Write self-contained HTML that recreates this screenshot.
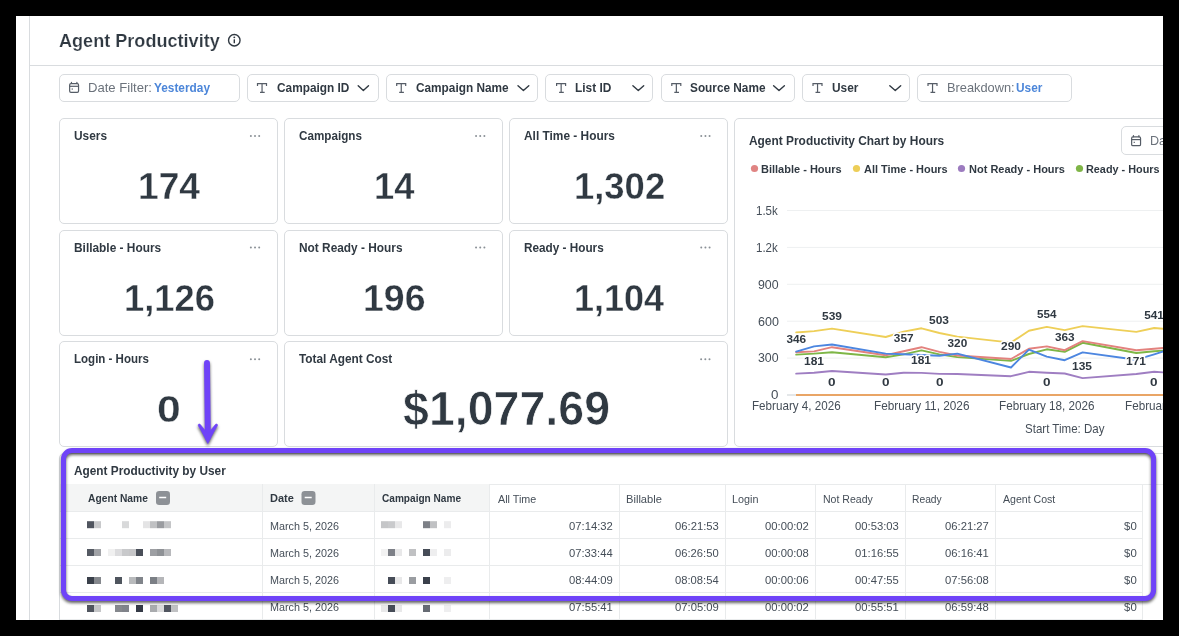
<!DOCTYPE html>
<html><head><meta charset="utf-8"><title>Agent Productivity</title>
<style>
html,body{margin:0;padding:0;background:#000;}
body{width:1179px;height:636px;overflow:hidden;position:relative;font-family:"Liberation Sans", sans-serif;}
#sheet{position:absolute;left:16px;top:16px;width:1147px;height:604px;background:#fff;overflow:hidden;}
#in{position:absolute;left:-16px;top:-16px;width:1179px;height:636px;}
.b{position:absolute;box-sizing:content-box;}
.t{position:absolute;white-space:nowrap;line-height:1;font-family:"Liberation Sans", sans-serif;transform-origin:0 0;}
svg{position:absolute;left:0;top:0;overflow:visible;}
</style></head><body>
<div id="sheet"><div id="in">
<div class="b" style="left:29px;top:16px;width:1px;height:604px;background:#d9dcdf"></div>
<div class="b" style="left:30px;top:65px;width:1133px;height:1px;background:#d9dcdf"></div>
<div class="b" style="left:59px;top:74px;width:179.0px;height:26.0px;border:1px solid #d9dcdf;border-radius:5px;background:#fff;"></div>
<div class="b" style="left:247px;top:74px;width:130.0px;height:26.0px;border:1px solid #d9dcdf;border-radius:5px;background:#fff;"></div>
<div class="b" style="left:386px;top:74px;width:150.0px;height:26.0px;border:1px solid #d9dcdf;border-radius:5px;background:#fff;"></div>
<div class="b" style="left:545px;top:74px;width:106.0px;height:26.0px;border:1px solid #d9dcdf;border-radius:5px;background:#fff;"></div>
<div class="b" style="left:661px;top:74px;width:132.0px;height:26.0px;border:1px solid #d9dcdf;border-radius:5px;background:#fff;"></div>
<div class="b" style="left:802px;top:74px;width:106.0px;height:26.0px;border:1px solid #d9dcdf;border-radius:5px;background:#fff;"></div>
<div class="b" style="left:917px;top:74px;width:153.0px;height:26.0px;border:1px solid #d9dcdf;border-radius:5px;background:#fff;"></div>
<div class="b" style="left:59px;top:118px;width:217.0px;height:104.0px;border:1px solid #d9dcdf;border-radius:5px;background:#fff;"></div>
<div class="b" style="left:284px;top:118px;width:217.0px;height:104.0px;border:1px solid #d9dcdf;border-radius:5px;background:#fff;"></div>
<div class="b" style="left:509px;top:118px;width:217.0px;height:104.0px;border:1px solid #d9dcdf;border-radius:5px;background:#fff;"></div>
<div class="b" style="left:59px;top:230px;width:217.0px;height:104.0px;border:1px solid #d9dcdf;border-radius:5px;background:#fff;"></div>
<div class="b" style="left:284px;top:230px;width:217.0px;height:104.0px;border:1px solid #d9dcdf;border-radius:5px;background:#fff;"></div>
<div class="b" style="left:509px;top:230px;width:217.0px;height:104.0px;border:1px solid #d9dcdf;border-radius:5px;background:#fff;"></div>
<div class="b" style="left:59px;top:341px;width:217.0px;height:104.0px;border:1px solid #d9dcdf;border-radius:5px;background:#fff;"></div>
<div class="b" style="left:284px;top:341px;width:442.0px;height:104.0px;border:1px solid #d9dcdf;border-radius:5px;background:#fff;"></div>
<div class="b" style="left:734px;top:118px;width:564.0px;height:327.0px;border:1px solid #d9dcdf;border-radius:5px;background:#fff;"></div>
<div class="b" style="left:1121px;top:126px;width:177.0px;height:27.0px;border:1px solid #d9dcdf;border-radius:5px;background:#fff;"></div>
<div class="b" style="left:59px;top:453px;width:1239.0px;height:245.0px;border:1px solid #d9dcdf;border-radius:5px;background:#fff;"></div>
<div class="b" style="left:60px;top:484px;width:429px;height:28px;background:#f4f5f5"></div>
<div class="b" style="left:489px;top:484px;width:686px;height:1px;background:#e9ebec"></div>
<div class="b" style="left:60px;top:511px;width:1083px;height:1px;background:#e9ebec"></div>
<div class="b" style="left:60px;top:538px;width:1083px;height:1px;background:#e9ebec"></div>
<div class="b" style="left:60px;top:565px;width:1083px;height:1px;background:#e9ebec"></div>
<div class="b" style="left:60px;top:592px;width:1083px;height:1px;background:#e9ebec"></div>
<div class="b" style="left:60px;top:619px;width:1083px;height:1px;background:#e9ebec"></div>
<div class="b" style="left:262px;top:484px;width:1px;height:140px;background:#e9ebec"></div>
<div class="b" style="left:374px;top:484px;width:1px;height:140px;background:#e9ebec"></div>
<div class="b" style="left:489px;top:484px;width:1px;height:140px;background:#e9ebec"></div>
<div class="b" style="left:619px;top:484px;width:1px;height:140px;background:#e9ebec"></div>
<div class="b" style="left:725px;top:484px;width:1px;height:140px;background:#e9ebec"></div>
<div class="b" style="left:815px;top:484px;width:1px;height:140px;background:#e9ebec"></div>
<div class="b" style="left:905px;top:484px;width:1px;height:140px;background:#e9ebec"></div>
<div class="b" style="left:995px;top:484px;width:1px;height:140px;background:#e9ebec"></div>
<div class="b" style="left:1142px;top:484px;width:1px;height:140px;background:#e9ebec"></div>
<svg width="1179" height="636" viewBox="0 0 1179 636">
<circle cx="234.3" cy="40.2" r="5.75" fill="none" stroke="#303942" stroke-width="1.4"/><rect x="233.6" y="39.2" width="1.4" height="4.1" rx="0.4" fill="#303942"/><circle cx="234.3" cy="37.35" r="0.95" fill="#303942"/>
<g fill="none" stroke="#555c66" stroke-width="1.2"><rect x="69.65" y="83.65" width="8.9" height="8.75" rx="1.3"/><path d="M69.65 86.30H78.55"/><path stroke-linecap="round" d="M71.45 82.30V83.45M76.90 82.30V83.45"/></g><rect x="71.65" y="88.45" width="1.2" height="1.2" fill="#555c66"/>
<g fill="none" stroke="#555c66" stroke-width="1.2"><rect x="1131.65" y="136.95" width="8.9" height="8.75" rx="1.3"/><path d="M1131.65 139.60H1140.55"/><path stroke-linecap="round" d="M1133.45 135.60V136.75M1138.90 135.60V136.75"/></g><rect x="1133.65" y="141.75" width="1.2" height="1.2" fill="#555c66"/>
<path fill="none" stroke="#565d67" stroke-width="1.2" d="M257.50 85.90V83.70H266.50V85.90M262.05 83.70V92.40M260.00 92.40H264.70"/>
<path fill="none" stroke="#565d67" stroke-width="1.2" d="M396.70 85.90V83.70H405.70V85.90M401.25 83.70V92.40M399.20 92.40H403.90"/>
<path fill="none" stroke="#565d67" stroke-width="1.2" d="M556.60 85.90V83.70H565.60V85.90M561.15 83.70V92.40M559.10 92.40H563.80"/>
<path fill="none" stroke="#565d67" stroke-width="1.2" d="M671.80 85.90V83.70H680.80V85.90M676.35 83.70V92.40M674.30 92.40H679.00"/>
<path fill="none" stroke="#565d67" stroke-width="1.2" d="M813.00 85.90V83.70H822.00V85.90M817.55 83.70V92.40M815.50 92.40H820.20"/>
<path fill="none" stroke="#565d67" stroke-width="1.2" d="M928.00 85.90V83.70H937.00V85.90M932.55 83.70V92.40M930.50 92.40H935.20"/>
<path fill="none" stroke="#303942" stroke-width="1.4" stroke-linecap="round" stroke-linejoin="round" d="M358.20000000000005 85.7L363.35 90.6L368.5 85.7"/>
<path fill="none" stroke="#303942" stroke-width="1.4" stroke-linecap="round" stroke-linejoin="round" d="M518.0 85.7L523.4 90.6L528.8000000000001 85.7"/>
<path fill="none" stroke="#303942" stroke-width="1.4" stroke-linecap="round" stroke-linejoin="round" d="M632.9 85.7L638.3 90.6L643.7 85.7"/>
<path fill="none" stroke="#303942" stroke-width="1.4" stroke-linecap="round" stroke-linejoin="round" d="M773.6 85.7L779.0 90.6L784.4000000000001 85.7"/>
<path fill="none" stroke="#303942" stroke-width="1.4" stroke-linecap="round" stroke-linejoin="round" d="M889.8000000000001 85.7L895.25 90.6L900.7 85.7"/>
<circle cx="250.85" cy="136.0" r="1.0" fill="#8a9096"/>
<circle cx="255.02" cy="136.0" r="1.0" fill="#8a9096"/>
<circle cx="259.19" cy="136.0" r="1.0" fill="#8a9096"/>
<circle cx="250.85" cy="247.6" r="1.0" fill="#8a9096"/>
<circle cx="255.02" cy="247.6" r="1.0" fill="#8a9096"/>
<circle cx="259.19" cy="247.6" r="1.0" fill="#8a9096"/>
<circle cx="476.05" cy="136.0" r="1.0" fill="#8a9096"/>
<circle cx="480.22" cy="136.0" r="1.0" fill="#8a9096"/>
<circle cx="484.39" cy="136.0" r="1.0" fill="#8a9096"/>
<circle cx="476.05" cy="247.6" r="1.0" fill="#8a9096"/>
<circle cx="480.22" cy="247.6" r="1.0" fill="#8a9096"/>
<circle cx="484.39" cy="247.6" r="1.0" fill="#8a9096"/>
<circle cx="701.25" cy="136.0" r="1.0" fill="#8a9096"/>
<circle cx="705.42" cy="136.0" r="1.0" fill="#8a9096"/>
<circle cx="709.59" cy="136.0" r="1.0" fill="#8a9096"/>
<circle cx="701.25" cy="247.6" r="1.0" fill="#8a9096"/>
<circle cx="705.42" cy="247.6" r="1.0" fill="#8a9096"/>
<circle cx="709.59" cy="247.6" r="1.0" fill="#8a9096"/>
<circle cx="250.85" cy="359.3" r="1.0" fill="#8a9096"/>
<circle cx="255.02" cy="359.3" r="1.0" fill="#8a9096"/>
<circle cx="259.19" cy="359.3" r="1.0" fill="#8a9096"/>
<circle cx="701.15" cy="359.3" r="1.0" fill="#8a9096"/>
<circle cx="705.32" cy="359.3" r="1.0" fill="#8a9096"/>
<circle cx="709.49" cy="359.3" r="1.0" fill="#8a9096"/>
<circle cx="754.5" cy="168.5" r="3.6" fill="#E08483"/>
<circle cx="856.5" cy="168.5" r="3.6" fill="#EDCE58"/>
<circle cx="961.5" cy="168.5" r="3.6" fill="#9C7BBF"/>
<circle cx="1079.5" cy="168.5" r="3.6" fill="#7FB547"/>
<rect x="787" y="210.0" width="400" height="1" fill="#eef0f1"/>
<rect x="787" y="246.9" width="400" height="1" fill="#eef0f1"/>
<rect x="787" y="283.8" width="400" height="1" fill="#eef0f1"/>
<rect x="787" y="320.7" width="400" height="1" fill="#eef0f1"/>
<rect x="787" y="357.6" width="400" height="1" fill="#eef0f1"/>
<rect x="787" y="394" width="10" height="2" fill="#e4e7e9"/>
<rect x="796.0" y="394" width="400" height="2" fill="#E9A566"/>
<polyline fill="none" stroke="#EECF58" stroke-width="1.9" stroke-linejoin="round" stroke-linecap="round" points="796.2,332.5 814.1,331.1 832.0,328.6 885.7,337.0 903.6,331.6 921.5,328.3 939.4,333.0 957.3,336.6 1011.0,342.6 1028.9,330.7 1046.8,326.9 1064.7,330.1 1082.6,326.1 1136.3,331.9 1154.2,328.0 1172.1,329.6"/>
<polyline fill="none" stroke="#9F7EC2" stroke-width="1.9" stroke-linejoin="round" stroke-linecap="round" points="796.2,373.6 814.1,372.8 832.0,371.0 885.7,374.5 903.6,372.8 921.5,372.9 939.4,373.9 957.3,374.0 1011.0,376.2 1028.9,371.8 1046.8,372.7 1064.7,373.5 1082.6,378.1 1136.3,374.0 1154.2,371.7 1172.1,373.0"/>
<polyline fill="none" stroke="#7EB646" stroke-width="1.9" stroke-linejoin="round" stroke-linecap="round" points="796.2,354.6 814.1,353.6 832.0,352.2 885.7,357.3 903.6,354.4 921.5,350.4 939.4,354.4 957.3,357.1 1011.0,360.9 1028.9,354.0 1046.8,349.3 1064.7,351.9 1082.6,342.8 1136.3,353.0 1154.2,351.2 1172.1,350.0"/>
<polyline fill="none" stroke="#E3827E" stroke-width="1.9" stroke-linejoin="round" stroke-linecap="round" points="796.2,352.3 814.1,351.4 832.0,347.2 885.7,355.3 903.6,351.2 921.5,347.2 939.4,351.9 957.3,355.5 1011.0,359.0 1028.9,348.8 1046.8,346.4 1064.7,350.2 1082.6,341.1 1136.3,350.2 1154.2,348.7 1172.1,347.3"/>
<polyline fill="none" stroke="#4C86E0" stroke-width="1.9" stroke-linejoin="round" stroke-linecap="round" points="796.2,351.6 814.1,346.4 832.0,344.5 885.7,353.6 903.6,354.2 921.5,355.0 939.4,355.7 957.3,353.6 1011.0,367.5 1028.9,349.6 1046.8,356.6 1064.7,360.2 1082.6,352.4 1136.3,359.7 1154.2,354.3 1172.1,348.6"/>
<rect x="156.0" y="491" width="14" height="14" rx="3.2" fill="#8d9196"/><rect x="159.2" y="496.75" width="7.0" height="1.5" fill="#fff"/>
<rect x="301.5" y="491" width="14" height="14" rx="3.2" fill="#8d9196"/><rect x="304.7" y="496.75" width="7.0" height="1.5" fill="#fff"/>
<rect x="87" y="521.2" width="7" height="7" fill="#50555f"/>
<rect x="94" y="521.2" width="7" height="7" fill="#c8c9cb"/>
<rect x="122" y="521.2" width="7" height="7" fill="#d8d9da"/>
<rect x="143" y="521.2" width="7" height="7" fill="#e4e4e5"/>
<rect x="150" y="521.2" width="7" height="7" fill="#c0c1c3"/>
<rect x="157" y="521.2" width="7" height="7" fill="#9a9ca0"/>
<rect x="164" y="521.2" width="7" height="7" fill="#c4c5c7"/>
<rect x="87" y="549" width="7" height="7" fill="#555a63"/>
<rect x="94" y="549" width="7" height="7" fill="#a0a2a6"/>
<rect x="108" y="549" width="7" height="7" fill="#f0f0f0"/>
<rect x="115" y="549" width="7" height="7" fill="#dcdcde"/>
<rect x="122" y="549" width="7" height="7" fill="#c8c9cb"/>
<rect x="129" y="549" width="7" height="7" fill="#c6c6c8"/>
<rect x="136" y="549" width="7" height="7" fill="#4a4f59"/>
<rect x="150" y="549" width="7" height="7" fill="#9d9fa3"/>
<rect x="157" y="549" width="7" height="7" fill="#8f9296"/>
<rect x="164" y="549" width="7" height="7" fill="#b8b9bc"/>
<rect x="87" y="577" width="7" height="7" fill="#3a404a"/>
<rect x="94" y="577" width="7" height="7" fill="#85888d"/>
<rect x="115" y="577" width="7" height="7" fill="#4f555e"/>
<rect x="129" y="577" width="7" height="7" fill="#b8babc"/>
<rect x="136" y="577" width="7" height="7" fill="#80848a"/>
<rect x="150" y="577" width="7" height="7" fill="#7b7f85"/>
<rect x="157" y="577" width="7" height="7" fill="#b5b6b9"/>
<rect x="87" y="605" width="7" height="7" fill="#50555f"/>
<rect x="94" y="605" width="7" height="7" fill="#c5c6c8"/>
<rect x="115" y="605" width="7" height="7" fill="#85888d"/>
<rect x="122" y="605" width="7" height="7" fill="#80838a"/>
<rect x="136" y="605" width="7" height="7" fill="#343a46"/>
<rect x="150" y="605" width="7" height="7" fill="#a9abae"/>
<rect x="157" y="605" width="7" height="7" fill="#dadadb"/>
<rect x="164" y="605" width="7" height="7" fill="#50555f"/>
<rect x="171" y="605" width="7" height="7" fill="#c0c1c3"/>
<rect x="381" y="521.2" width="7" height="7" fill="#c5c6c8"/>
<rect x="388" y="521.2" width="7" height="7" fill="#c9cacc"/>
<rect x="395" y="521.2" width="7" height="7" fill="#e8e8e9"/>
<rect x="423" y="521.2" width="7" height="7" fill="#7d8087"/>
<rect x="430" y="521.2" width="7" height="7" fill="#c0c1c3"/>
<rect x="444" y="521.2" width="7" height="7" fill="#ececed"/>
<rect x="381" y="549" width="7" height="7" fill="#f2f2f2"/>
<rect x="388" y="549" width="7" height="7" fill="#7d8087"/>
<rect x="395" y="549" width="7" height="7" fill="#e8e8e9"/>
<rect x="409" y="549" width="7" height="7" fill="#c0c1c3"/>
<rect x="423" y="549" width="7" height="7" fill="#464c57"/>
<rect x="430" y="549" width="7" height="7" fill="#eeeeef"/>
<rect x="444" y="549" width="7" height="7" fill="#ececed"/>
<rect x="388" y="577" width="7" height="7" fill="#464c57"/>
<rect x="395" y="577" width="7" height="7" fill="#e8e8e9"/>
<rect x="409" y="577" width="7" height="7" fill="#9a9da1"/>
<rect x="423" y="577" width="7" height="7" fill="#3a404b"/>
<rect x="444" y="577" width="7" height="7" fill="#eeeeef"/>
<rect x="381" y="605" width="7" height="7" fill="#e8e8e9"/>
<rect x="388" y="605" width="7" height="7" fill="#464c57"/>
<rect x="395" y="605" width="7" height="7" fill="#e8e8e9"/>
<rect x="423" y="605" width="7" height="7" fill="#666b73"/>
<rect x="444" y="605" width="7" height="7" fill="#eeeeef"/>
</svg>
<div id="tx" style="position:absolute;left:0;top:0;width:1179px;height:636px;will-change:transform;">
<div class="t" style="left:821.99px;top:311.00px;font-size:11.8px;font-weight:bold;color:#fff;-webkit-text-stroke:3px #fff;transform:scaleX(1.0133);">539</div>
<div class="t" style="left:929.39px;top:315.00px;font-size:11.8px;font-weight:bold;color:#fff;-webkit-text-stroke:3px #fff;transform:scaleX(1.0133);">503</div>
<div class="t" style="left:1036.81px;top:309.00px;font-size:11.8px;font-weight:bold;color:#fff;-webkit-text-stroke:3px #fff;transform:scaleX(0.9870);">554</div>
<div class="t" style="left:1144.20px;top:310.00px;font-size:11.8px;font-weight:bold;color:#fff;-webkit-text-stroke:3px #fff;transform:scaleX(1.0000);">541</div>
<div class="t" style="left:786.45px;top:334.00px;font-size:11.8px;font-weight:bold;color:#fff;-webkit-text-stroke:3px #fff;transform:scaleX(1.0000);">346</div>
<div class="t" style="left:893.85px;top:333.00px;font-size:11.8px;font-weight:bold;color:#fff;-webkit-text-stroke:3px #fff;transform:scaleX(1.0000);">357</div>
<div class="t" style="left:947.55px;top:338.00px;font-size:11.8px;font-weight:bold;color:#fff;-webkit-text-stroke:3px #fff;transform:scaleX(1.0000);">320</div>
<div class="t" style="left:1000.99px;top:341.00px;font-size:11.8px;font-weight:bold;color:#fff;-webkit-text-stroke:3px #fff;transform:scaleX(1.0133);">290</div>
<div class="t" style="left:1054.95px;top:332.00px;font-size:11.8px;font-weight:bold;color:#fff;-webkit-text-stroke:3px #fff;transform:scaleX(1.0000);">363</div>
<div class="t" style="left:803.84px;top:356.00px;font-size:11.8px;font-weight:bold;color:#fff;-webkit-text-stroke:3px #fff;transform:scaleX(1.0133);">181</div>
<div class="t" style="left:911.24px;top:355.00px;font-size:11.8px;font-weight:bold;color:#fff;-webkit-text-stroke:3px #fff;transform:scaleX(1.0133);">181</div>
<div class="t" style="left:1072.34px;top:361.00px;font-size:11.8px;font-weight:bold;color:#fff;-webkit-text-stroke:3px #fff;transform:scaleX(1.0133);">135</div>
<div class="t" style="left:1126.04px;top:356.00px;font-size:11.8px;font-weight:bold;color:#fff;-webkit-text-stroke:3px #fff;transform:scaleX(1.0133);">171</div>
<div class="t" style="left:828.28px;top:377.00px;font-size:11.8px;font-weight:bold;color:#fff;-webkit-text-stroke:3px #fff;transform:scaleX(1.1455);">0</div>
<div class="t" style="left:881.98px;top:377.00px;font-size:11.8px;font-weight:bold;color:#fff;-webkit-text-stroke:3px #fff;transform:scaleX(1.1455);">0</div>
<div class="t" style="left:935.68px;top:377.00px;font-size:11.8px;font-weight:bold;color:#fff;-webkit-text-stroke:3px #fff;transform:scaleX(1.1455);">0</div>
<div class="t" style="left:1043.08px;top:377.00px;font-size:11.8px;font-weight:bold;color:#fff;-webkit-text-stroke:3px #fff;transform:scaleX(1.1455);">0</div>
<div class="t" style="left:1150.48px;top:377.00px;font-size:11.8px;font-weight:bold;color:#fff;-webkit-text-stroke:3px #fff;transform:scaleX(1.1455);">0</div>
<div class="t" style="left:58.53px;top:31.00px;font-size:19.2px;font-weight:bold;color:#303942;transform:scaleX(0.9426);-webkit-text-stroke:0.2px #fff;">Agent Productivity</div>
<div class="t" style="left:88.23px;top:81.00px;font-size:13.5px;font-weight:normal;color:#6b727b;transform:scaleX(0.9694);">Date Filter:</div>
<div class="t" style="left:154.08px;top:81.00px;font-size:13.5px;font-weight:bold;color:#4c86d9;transform:scaleX(0.8772);">Yesterday</div>
<div class="t" style="left:276.96px;top:81.00px;font-size:13.5px;font-weight:bold;color:#303942;transform:scaleX(0.8773);">Campaign ID</div>
<div class="t" style="left:415.86px;top:81.00px;font-size:13.5px;font-weight:bold;color:#303942;transform:scaleX(0.8754);">Campaign Name</div>
<div class="t" style="left:575.02px;top:81.00px;font-size:13.5px;font-weight:bold;color:#303942;transform:scaleX(0.8805);">List ID</div>
<div class="t" style="left:689.86px;top:81.00px;font-size:13.5px;font-weight:bold;color:#303942;transform:scaleX(0.8751);">Source Name</div>
<div class="t" style="left:831.84px;top:81.00px;font-size:13.5px;font-weight:bold;color:#303942;transform:scaleX(0.8793);">User</div>
<div class="t" style="left:946.85px;top:81.00px;font-size:13.5px;font-weight:normal;color:#6b727b;transform:scaleX(0.9478);">Breakdown:</div>
<div class="t" style="left:1015.84px;top:81.00px;font-size:13.5px;font-weight:bold;color:#4c86d9;transform:scaleX(0.8793);">User</div>
<div class="t" style="left:73.71px;top:130.00px;font-size:12.9px;font-weight:bold;color:#303942;transform:scaleX(0.9217);">Users</div>
<div class="t" style="left:298.85px;top:130.00px;font-size:12.9px;font-weight:bold;color:#303942;transform:scaleX(0.9051);">Campaigns</div>
<div class="t" style="left:523.97px;top:130.00px;font-size:12.9px;font-weight:bold;color:#303942;transform:scaleX(0.9217);">All Time - Hours</div>
<div class="t" style="left:73.61px;top:242.00px;font-size:12.9px;font-weight:bold;color:#303942;transform:scaleX(0.9223);">Billable - Hours</div>
<div class="t" style="left:299.01px;top:242.00px;font-size:12.9px;font-weight:bold;color:#303942;transform:scaleX(0.9204);">Not Ready - Hours</div>
<div class="t" style="left:523.82px;top:242.00px;font-size:12.9px;font-weight:bold;color:#303942;transform:scaleX(0.9125);">Ready - Hours</div>
<div class="t" style="left:73.63px;top:353.00px;font-size:12.9px;font-weight:bold;color:#303942;transform:scaleX(0.8945);">Login - Hours</div>
<div class="t" style="left:299.27px;top:353.00px;font-size:12.9px;font-weight:bold;color:#303942;transform:scaleX(0.9175);">Total Agent Cost</div>
<div class="t" style="left:137.77px;top:168.00px;font-size:37.5px;font-weight:bold;color:#303942;transform:scaleX(0.9917);-webkit-text-stroke:0.35px #fff;">174</div>
<div class="t" style="left:373.82px;top:168.00px;font-size:37.5px;font-weight:bold;color:#303942;transform:scaleX(0.9682);-webkit-text-stroke:0.35px #fff;">14</div>
<div class="t" style="left:573.62px;top:168.00px;font-size:37.5px;font-weight:bold;color:#303942;transform:scaleX(0.9711);-webkit-text-stroke:0.35px #fff;">1,302</div>
<div class="t" style="left:123.62px;top:280.00px;font-size:37.5px;font-weight:bold;color:#303942;transform:scaleX(0.9684);-webkit-text-stroke:0.35px #fff;">1,126</div>
<div class="t" style="left:362.55px;top:280.00px;font-size:37.5px;font-weight:bold;color:#303942;transform:scaleX(0.9983);-webkit-text-stroke:0.35px #fff;">196</div>
<div class="t" style="left:573.64px;top:280.00px;font-size:37.5px;font-weight:bold;color:#303942;transform:scaleX(0.9585);-webkit-text-stroke:0.35px #fff;">1,104</div>
<div class="t" style="left:156.79px;top:391.00px;font-size:37.5px;font-weight:bold;color:#303942;transform:scaleX(1.1380);-webkit-text-stroke:0.35px #fff;">0</div>
<div class="t" style="left:403.47px;top:385.00px;font-size:47.6px;font-weight:bold;color:#303942;transform:scaleX(0.9778);-webkit-text-stroke:0.7px #fff;">$1,077.69</div>
<div class="t" style="left:749.47px;top:134.00px;font-size:13.1px;font-weight:bold;color:#303942;transform:scaleX(0.9095);">Agent Productivity Chart by Hours</div>
<div class="t" style="left:761.30px;top:164.00px;font-size:11.8px;font-weight:bold;color:#303942;transform:scaleX(0.9326);">Billable - Hours</div>
<div class="t" style="left:863.67px;top:164.00px;font-size:11.8px;font-weight:bold;color:#303942;transform:scaleX(0.9274);">All Time - Hours</div>
<div class="t" style="left:968.60px;top:164.00px;font-size:11.8px;font-weight:bold;color:#303942;transform:scaleX(0.9327);">Not Ready - Hours</div>
<div class="t" style="left:1086.11px;top:164.00px;font-size:11.8px;font-weight:bold;color:#303942;transform:scaleX(0.9194);">Ready - Hours</div>
<div class="t" style="left:1150.03px;top:134.00px;font-size:13px;font-weight:normal;color:#6b727b;transform:scaleX(0.9677);">Da</div>
<div class="t" style="left:756.45px;top:205.00px;font-size:12.2px;font-weight:normal;color:#454e58;transform:scaleX(0.9455);">1.5k</div>
<div class="t" style="left:756.45px;top:242.00px;font-size:12.2px;font-weight:normal;color:#454e58;transform:scaleX(0.9455);">1.2k</div>
<div class="t" style="left:758.19px;top:279.00px;font-size:12.2px;font-weight:normal;color:#454e58;transform:scaleX(1.0130);">900</div>
<div class="t" style="left:757.93px;top:316.00px;font-size:12.2px;font-weight:normal;color:#454e58;transform:scaleX(1.0263);">600</div>
<div class="t" style="left:758.19px;top:352.00px;font-size:12.2px;font-weight:normal;color:#454e58;transform:scaleX(1.0130);">300</div>
<div class="t" style="left:771.35px;top:389.00px;font-size:12.2px;font-weight:normal;color:#454e58;transform:scaleX(1.0957);">0</div>
<div class="t" style="left:751.54px;top:400.00px;font-size:12.1px;font-weight:normal;color:#454e58;transform:scaleX(0.9624);">February 4, 2026</div>
<div class="t" style="left:873.93px;top:400.00px;font-size:12.1px;font-weight:normal;color:#454e58;transform:scaleX(0.9745);">February 11, 2026</div>
<div class="t" style="left:999.03px;top:400.00px;font-size:12.1px;font-weight:normal;color:#454e58;transform:scaleX(0.9666);">February 18, 2026</div>
<div class="t" style="left:1124.53px;top:400.00px;font-size:12.1px;font-weight:normal;color:#454e58;transform:scaleX(0.9666);">February 25, 2026</div>
<div class="t" style="left:1024.82px;top:423.00px;font-size:12.1px;font-weight:normal;color:#454e58;transform:scaleX(0.9535);">Start Time: Day</div>
<div class="t" style="left:74.46px;top:465.00px;font-size:12.2px;font-weight:bold;color:#303942;transform:scaleX(0.9699);">Agent Productivity by User</div>
<div class="t" style="left:88.47px;top:493.00px;font-size:11.4px;font-weight:bold;color:#303942;transform:scaleX(0.9004);">Agent Name</div>
<div class="t" style="left:270.28px;top:493.00px;font-size:11.4px;font-weight:bold;color:#303942;transform:scaleX(0.9660);">Date</div>
<div class="t" style="left:381.86px;top:493.00px;font-size:11.4px;font-weight:bold;color:#303942;transform:scaleX(0.8859);">Campaign Name</div>
<div class="t" style="left:497.50px;top:494.00px;font-size:11.4px;font-weight:normal;color:#454e58;transform:scaleX(0.9425);">All Time</div>
<div class="t" style="left:626.32px;top:494.00px;font-size:11.4px;font-weight:normal;color:#454e58;transform:scaleX(0.9787);">Billable</div>
<div class="t" style="left:732.45px;top:494.00px;font-size:11.4px;font-weight:normal;color:#454e58;transform:scaleX(0.9486);">Login</div>
<div class="t" style="left:822.77px;top:494.00px;font-size:11.4px;font-weight:normal;color:#454e58;transform:scaleX(0.9251);">Not Ready</div>
<div class="t" style="left:912.40px;top:494.00px;font-size:11.4px;font-weight:normal;color:#454e58;transform:scaleX(0.9031);">Ready</div>
<div class="t" style="left:1003.40px;top:494.00px;font-size:11.4px;font-weight:normal;color:#454e58;transform:scaleX(0.9280);">Agent Cost</div>
<div class="t" style="left:269.95px;top:521.00px;font-size:11.4px;font-weight:normal;color:#454e58;transform:scaleX(0.9474);">March 5, 2026</div>
<div class="t" style="left:569.21px;top:521.00px;font-size:11.4px;font-weight:normal;color:#454e58;transform:scaleX(0.9896);">07:14:32</div>
<div class="t" style="left:675.01px;top:521.00px;font-size:11.4px;font-weight:normal;color:#454e58;transform:scaleX(0.9896);">06:21:53</div>
<div class="t" style="left:765.11px;top:521.00px;font-size:11.4px;font-weight:normal;color:#454e58;transform:scaleX(0.9896);">00:00:02</div>
<div class="t" style="left:855.21px;top:521.00px;font-size:11.4px;font-weight:normal;color:#454e58;transform:scaleX(0.9896);">00:53:03</div>
<div class="t" style="left:945.01px;top:521.00px;font-size:11.4px;font-weight:normal;color:#454e58;transform:scaleX(0.9896);">06:21:27</div>
<div class="t" style="left:1124.05px;top:521.00px;font-size:11.4px;font-weight:normal;color:#454e58;transform:scaleX(1.0000);">$0</div>
<div class="t" style="left:269.95px;top:548.00px;font-size:11.4px;font-weight:normal;color:#454e58;transform:scaleX(0.9474);">March 5, 2026</div>
<div class="t" style="left:569.21px;top:548.00px;font-size:11.4px;font-weight:normal;color:#454e58;transform:scaleX(0.9839);">07:33:44</div>
<div class="t" style="left:675.01px;top:548.00px;font-size:11.4px;font-weight:normal;color:#454e58;transform:scaleX(0.9839);">06:26:50</div>
<div class="t" style="left:765.11px;top:548.00px;font-size:11.4px;font-weight:normal;color:#454e58;transform:scaleX(0.9896);">00:00:08</div>
<div class="t" style="left:855.21px;top:548.00px;font-size:11.4px;font-weight:normal;color:#454e58;transform:scaleX(0.9896);">01:16:55</div>
<div class="t" style="left:945.01px;top:548.00px;font-size:11.4px;font-weight:normal;color:#454e58;transform:scaleX(0.9896);">06:16:41</div>
<div class="t" style="left:1124.05px;top:548.00px;font-size:11.4px;font-weight:normal;color:#454e58;transform:scaleX(1.0000);">$0</div>
<div class="t" style="left:269.95px;top:575.00px;font-size:11.4px;font-weight:normal;color:#454e58;transform:scaleX(0.9474);">March 5, 2026</div>
<div class="t" style="left:569.21px;top:575.00px;font-size:11.4px;font-weight:normal;color:#454e58;transform:scaleX(0.9896);">08:44:09</div>
<div class="t" style="left:675.01px;top:575.00px;font-size:11.4px;font-weight:normal;color:#454e58;transform:scaleX(0.9839);">08:08:54</div>
<div class="t" style="left:765.11px;top:575.00px;font-size:11.4px;font-weight:normal;color:#454e58;transform:scaleX(0.9896);">00:00:06</div>
<div class="t" style="left:855.21px;top:575.00px;font-size:11.4px;font-weight:normal;color:#454e58;transform:scaleX(0.9896);">00:47:55</div>
<div class="t" style="left:945.01px;top:575.00px;font-size:11.4px;font-weight:normal;color:#454e58;transform:scaleX(0.9896);">07:56:08</div>
<div class="t" style="left:1124.05px;top:575.00px;font-size:11.4px;font-weight:normal;color:#454e58;transform:scaleX(1.0000);">$0</div>
<div class="t" style="left:269.95px;top:602.00px;font-size:11.4px;font-weight:normal;color:#454e58;transform:scaleX(0.9474);">March 5, 2026</div>
<div class="t" style="left:569.21px;top:602.00px;font-size:11.4px;font-weight:normal;color:#454e58;transform:scaleX(0.9896);">07:55:41</div>
<div class="t" style="left:675.01px;top:602.00px;font-size:11.4px;font-weight:normal;color:#454e58;transform:scaleX(0.9896);">07:05:09</div>
<div class="t" style="left:765.11px;top:602.00px;font-size:11.4px;font-weight:normal;color:#454e58;transform:scaleX(0.9896);">00:00:02</div>
<div class="t" style="left:855.21px;top:602.00px;font-size:11.4px;font-weight:normal;color:#454e58;transform:scaleX(0.9896);">00:55:51</div>
<div class="t" style="left:945.01px;top:602.00px;font-size:11.4px;font-weight:normal;color:#454e58;transform:scaleX(0.9896);">06:59:48</div>
<div class="t" style="left:1124.05px;top:602.00px;font-size:11.4px;font-weight:normal;color:#454e58;transform:scaleX(1.0000);">$0</div>
<div class="t" style="left:821.99px;top:311.00px;font-size:11.8px;font-weight:bold;color:#303942;transform:scaleX(1.0133);">539</div>
<div class="t" style="left:929.39px;top:315.00px;font-size:11.8px;font-weight:bold;color:#303942;transform:scaleX(1.0133);">503</div>
<div class="t" style="left:1036.81px;top:309.00px;font-size:11.8px;font-weight:bold;color:#303942;transform:scaleX(0.9870);">554</div>
<div class="t" style="left:1144.20px;top:310.00px;font-size:11.8px;font-weight:bold;color:#303942;transform:scaleX(1.0000);">541</div>
<div class="t" style="left:786.45px;top:334.00px;font-size:11.8px;font-weight:bold;color:#303942;transform:scaleX(1.0000);">346</div>
<div class="t" style="left:893.85px;top:333.00px;font-size:11.8px;font-weight:bold;color:#303942;transform:scaleX(1.0000);">357</div>
<div class="t" style="left:947.55px;top:338.00px;font-size:11.8px;font-weight:bold;color:#303942;transform:scaleX(1.0000);">320</div>
<div class="t" style="left:1000.99px;top:341.00px;font-size:11.8px;font-weight:bold;color:#303942;transform:scaleX(1.0133);">290</div>
<div class="t" style="left:1054.95px;top:332.00px;font-size:11.8px;font-weight:bold;color:#303942;transform:scaleX(1.0000);">363</div>
<div class="t" style="left:803.84px;top:356.00px;font-size:11.8px;font-weight:bold;color:#303942;transform:scaleX(1.0133);">181</div>
<div class="t" style="left:911.24px;top:355.00px;font-size:11.8px;font-weight:bold;color:#303942;transform:scaleX(1.0133);">181</div>
<div class="t" style="left:1072.34px;top:361.00px;font-size:11.8px;font-weight:bold;color:#303942;transform:scaleX(1.0133);">135</div>
<div class="t" style="left:1126.04px;top:356.00px;font-size:11.8px;font-weight:bold;color:#303942;transform:scaleX(1.0133);">171</div>
<div class="t" style="left:828.28px;top:377.00px;font-size:11.8px;font-weight:bold;color:#303942;transform:scaleX(1.1455);">0</div>
<div class="t" style="left:881.98px;top:377.00px;font-size:11.8px;font-weight:bold;color:#303942;transform:scaleX(1.1455);">0</div>
<div class="t" style="left:935.68px;top:377.00px;font-size:11.8px;font-weight:bold;color:#303942;transform:scaleX(1.1455);">0</div>
<div class="t" style="left:1043.08px;top:377.00px;font-size:11.8px;font-weight:bold;color:#303942;transform:scaleX(1.1455);">0</div>
<div class="t" style="left:1150.48px;top:377.00px;font-size:11.8px;font-weight:bold;color:#303942;transform:scaleX(1.1455);">0</div>
</div>
<svg width="1179" height="636" viewBox="0 0 1179 636" style="filter:drop-shadow(0.2px 2.2px 1.5px rgba(0,0,0,0.62));">
<rect x="63.5" y="450.5" width="1090.1" height="147.9" rx="8.5" fill="none" stroke="#6f43f8" stroke-width="5"/>
<path d="M207.0 362.9L207.85 437" fill="none" stroke="#6f43f8" stroke-width="5.9" stroke-linecap="round"/>
<path d="M207.85 443.6C207.0 442.2 202.6 432.6 198.4 425.9C197.6 424.5 198.9 423.5 200.1 424.3L207.85 433.8L215.6 424.3C216.8 423.5 218.1 424.5 217.3 425.9C213.1 432.6 208.7 442.2 207.85 443.6Z" fill="#6f43f8" stroke="#6f43f8" stroke-width="0.6" stroke-linejoin="round"/>
</svg>
</div></div>
</body></html>
